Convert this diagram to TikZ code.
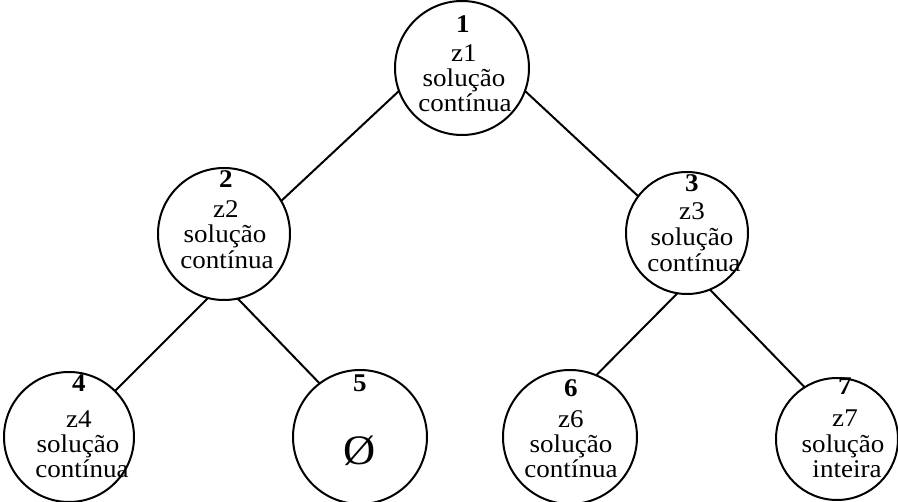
\documentclass[tikz,border=0pt]{standalone}
\usepackage{fontspec}
\setmainfont{Liberation Serif}[FakeStretch=1.06]
\begin{document}
\begin{tikzpicture}[x=1pt,y=-1pt,
  circ/.style={draw, circle, line width=2pt, inner sep=0pt, outer sep=0pt, minimum size=#1},
  lbl/.style={anchor=base, inner sep=0pt, font=\fontsize{25.5}{27}\selectfont},
  num/.style={anchor=base, inner sep=0pt, font=\fontsize{25.5}{27}\selectfont\bfseries},
  big/.style={anchor=center, inner sep=0pt, font=\fontsize{42}{44}\selectfont},
  edge/.style={line width=2pt}]
\path[use as bounding box] (0,0) rectangle (898,502);
% circles
\node[circ=134pt] (n1) at (462,68) {};
\node[circ=132pt] (n2) at (224,234) {};
\node[circ=122pt] (n3) at (687,233) {};
\node[circ=130pt] (n4) at (69,437) {};
\node[circ=134pt] (n5) at (360,437) {};
\node[circ=134pt] (n6) at (570,437) {};
\node[circ=122pt] (n7) at (837,439) {};
% texts node 1
\node[num] (k1) at (463,33) {1};
\node[lbl] (a1) at (464,62) {z1};
\node[lbl] (b1) at (464,87) {solução};
\node[lbl] (c1) at (465,112) {contínua};
% node 2
\node[num] (k2) at (226,188) {2};
\node[lbl] (a2) at (226,218) {z2};
\node[lbl] (b2) at (225,243) {solução};
\node[lbl] (c2) at (227,269) {contínua};
% node 3
\node[num] (k3) at (692,192) {3};
\node[lbl] (a3) at (692,220) {z3};
\node[lbl] (b3) at (692,246) {solução};
\node[lbl] (c3) at (694,272) {contínua};
% node 4
\node[num] (k4) at (79,392) {4};
\node[lbl] (a4) at (79,428) {z4};
\node[lbl] (b4) at (78,453) {solução};
\node[lbl] (c4) at (82,478) {contínua};
% node 5
\node[num] (k5) at (360,392) {5};
\node[big] (e5) at (360,451) {Ø};
% node 6
\node[num] (k6) at (571,397) {6};
\node[lbl] (a6) at (571,428) {z6};
\node[lbl] (b6) at (571,453) {solução};
\node[lbl] (c6) at (571,478) {contínua};
% node 7
\node[num] (k7) at (845,395) {7};
\node[lbl] (a7) at (845,427) {z7};
\node[lbl] (b7) at (843,453) {solução};
\node[lbl] (c7) at (847,478) {inteira};
% edges
\draw[edge] (n1.200) -- (n2.30);
\draw[edge] (n1.340) -- (n3.143);
\draw[edge] (n2.256) -- (n4.45);
\draw[edge] (n2.282) -- (n5.127);
\draw[edge] (n3.261) -- (n6.67);
\draw[edge] (n3.292) -- (n7.122);
\end{tikzpicture}
\end{document}
